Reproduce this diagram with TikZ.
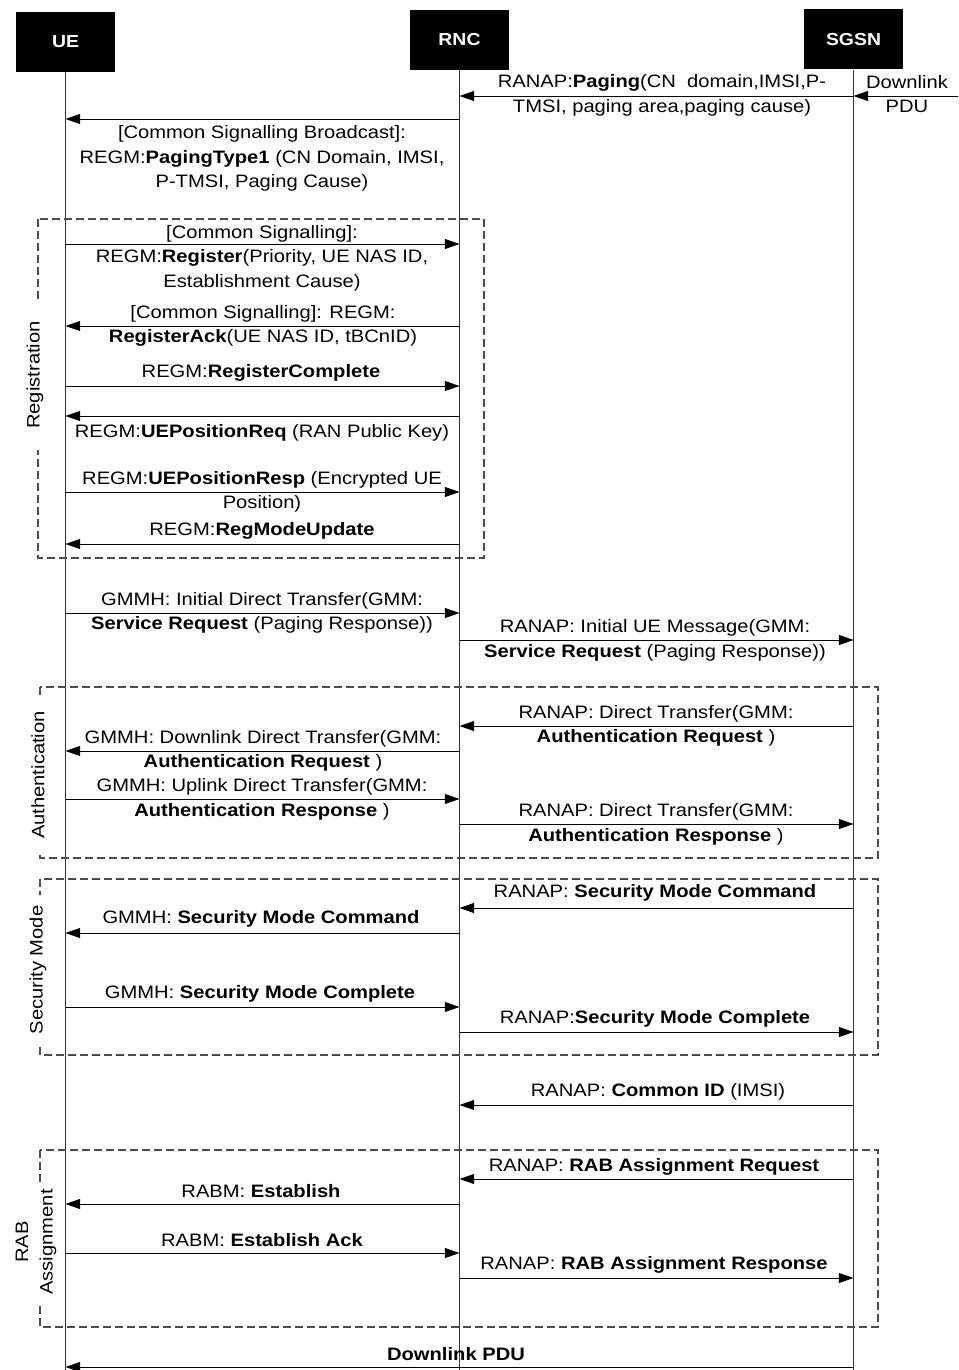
\documentclass[tikz,border=0pt]{standalone}
\usepackage{fontspec}
\setmainfont[FakeStretch=1.12]{Liberation Sans}
\usetikzlibrary{arrows.meta}
\begin{document}
\begin{tikzpicture}[x=0.75pt,y=-0.75pt,
  actor/.style={fill=black,text=white,font=\bfseries\fontsize{13pt}{15pt}\selectfont,minimum width=74pt,minimum height=45pt,inner sep=0pt},
  lbl/.style={font=\fontsize{13.5pt}{18.4pt}\selectfont,align=center,inner sep=0pt},
  msg/.style={line width=0.75pt,-{Triangle[length=11pt,width=7.5pt]}},
  life/.style={line width=0.75pt,draw=black!80},
  grp/.style={draw=black!70,line width=0.8pt,dash pattern=on 6pt off 3pt},
  grplbl/.style={rotate=90,fill=white,font=\fontsize{13.5pt}{18.4pt}\selectfont,align=center,inner ysep=1pt}]
\useasboundingbox (0,0) rectangle (958,1370);

% actors
\node[actor] (UE) at (65.5,42) {UE};
\node[actor] (RNC) at (459.5,40) {RNC};
\node[actor] (SGSN) at (853.5,39.5) {SGSN};
\coordinate (UEend) at (65,1370);
\coordinate (RNCend) at (459,1370);
\coordinate (SGSNend) at (853,1370);
\draw[life] (UE.south) -- (UE |- UEend);
\draw[life] (RNC.south) -- (RNC |- RNCend);
\draw[life] (SGSN.south) -- (SGSN |- SGSNend);

% group boxes
\draw[grp] (38,219) rectangle (484,558);
\node[grplbl,minimum width=112pt] (gReg) at (35,375) {Registration};
\draw[grp] (40,687) rectangle (878,858);
\node[grplbl,minimum width=114pt] (gAuth) at (38,775) {Authentication};
\draw[grp] (40,879) rectangle (878,1055);
\node[grplbl,minimum width=112pt] (gSec) at (38,970) {Security Mode};
\draw[grp] (40,1150) rectangle (878,1327);
\node[grplbl,minimum width=90pt] (gRab) at (36,1242) {RAB\\Assignment};

% paging
\coordinate (ext) at (958,96);
\draw[msg] (ext) -- (SGSN |- ext);
\node[lbl] (l0) at (907,94) {Downlink\\PDU};
\draw[msg] (SGSN |- 0,96) -- (RNC |- 0,96);
\node[lbl] (l1) at (662,95.5) {RANAP:\textbf{Paging}(CN\ \ domain,IMSI,P-\\TMSI, paging area,paging cause)};
\draw[msg] (RNC |- 0,119) -- (UE |- 0,119);
\node[lbl] (l2) at (262,158.5) {[Common Signalling Broadcast]:\\REGM:\textbf{PagingType1} (CN Domain, IMSI,\\P-TMSI, Paging Cause)};

% registration
\draw[msg] (UE |- 0,244) -- (RNC |- 0,244);
\node[lbl] (l3) at (262,258) {[Common Signalling]:\\REGM:\textbf{Register}(Priority, UE NAS ID,\\Establishment Cause)};
\draw[msg] (RNC |- 0,326) -- (UE |- 0,326);
\node[lbl] (l4) at (263,326) {[Common Signalling]: REGM:\\\textbf{RegisterAck}(UE NAS ID, tBCnID)};
\draw[msg] (UE |- 0,386) -- (RNC |- 0,386);
\node[lbl] (l5) at (261,373) {REGM:\textbf{RegisterComplete}};
\draw[msg] (RNC |- 0,416) -- (UE |- 0,416);
\node[lbl] (l6) at (262,433) {REGM:\textbf{UEPositionReq} (RAN Public Key)};
\draw[msg] (UE |- 0,492) -- (RNC |- 0,492);
\node[lbl] (l7) at (262,492) {REGM:\textbf{UEPositionResp} (Encrypted UE\\Position)};
\draw[msg] (RNC |- 0,544) -- (UE |- 0,544);
\node[lbl] (l8) at (262,531) {REGM:\textbf{RegModeUpdate}};

% service request
\draw[msg] (UE |- 0,613) -- (RNC |- 0,613);
\node[lbl] (l9) at (262,613) {GMMH: Initial Direct Transfer(GMM:\\\textbf{Service Request} (Paging Response))};
\draw[msg] (RNC |- 0,640) -- (SGSN |- 0,640);
\node[lbl] (l10) at (655,640.5) {RANAP: Initial UE Message(GMM:\\\textbf{Service Request} (Paging Response))};

% authentication
\draw[msg] (SGSN |- 0,726) -- (RNC |- 0,726);
\node[lbl] (l11) at (656,726) {RANAP: Direct Transfer(GMM:\\\textbf{Authentication Request} )};
\draw[msg] (RNC |- 0,751) -- (UE |- 0,751);
\node[lbl] (l12) at (263,751) {GMMH: Downlink Direct Transfer(GMM:\\\textbf{Authentication Request} )};
\draw[msg] (UE |- 0,799) -- (RNC |- 0,799);
\node[lbl] (l13) at (262,799.5) {GMMH: Uplink Direct Transfer(GMM:\\\textbf{Authentication Response} )};
\draw[msg] (RNC |- 0,824) -- (SGSN |- 0,824);
\node[lbl] (l14) at (656,824.5) {RANAP: Direct Transfer(GMM:\\\textbf{Authentication Response} )};

% security mode
\draw[msg] (SGSN |- 0,908) -- (RNC |- 0,908);
\node[lbl] (l15) at (655,893) {RANAP: \textbf{Security Mode Command}};
\draw[msg] (RNC |- 0,933) -- (UE |- 0,933);
\node[lbl] (l16) at (261,919) {GMMH: \textbf{Security Mode Command}};
\draw[msg] (UE |- 0,1007) -- (RNC |- 0,1007);
\node[lbl] (l17) at (260,994) {GMMH: \textbf{Security Mode Complete}};
\draw[msg] (RNC |- 0,1032) -- (SGSN |- 0,1032);
\node[lbl] (l18) at (655,1019) {RANAP:\textbf{Security Mode Complete}};
\draw[msg] (SGSN |- 0,1105) -- (RNC |- 0,1105);
\node[lbl] (l19) at (658,1092) {RANAP: \textbf{Common ID} (IMSI)};

% RAB assignment
\draw[msg] (SGSN |- 0,1179) -- (RNC |- 0,1179);
\node[lbl] (l20) at (654,1167) {RANAP: \textbf{RAB Assignment Request}};
\draw[msg] (RNC |- 0,1204) -- (UE |- 0,1204);
\node[lbl] (l21) at (261,1191) {RABM: \textbf{Establish}};
\draw[msg] (UE |- 0,1253) -- (RNC |- 0,1253);
\node[lbl] (l22) at (262,1240) {RABM: \textbf{Establish Ack}};
\draw[msg] (RNC |- 0,1278) -- (SGSN |- 0,1278);
\node[lbl] (l23) at (654,1265) {RANAP: \textbf{RAB Assignment Response}};

% downlink PDU
\draw[msg] (SGSN |- 0,1367) -- (UE |- 0,1367);
\node[lbl] (l24) at (456,1354) {\textbf{Downlink PDU}};
\end{tikzpicture}
\end{document}
